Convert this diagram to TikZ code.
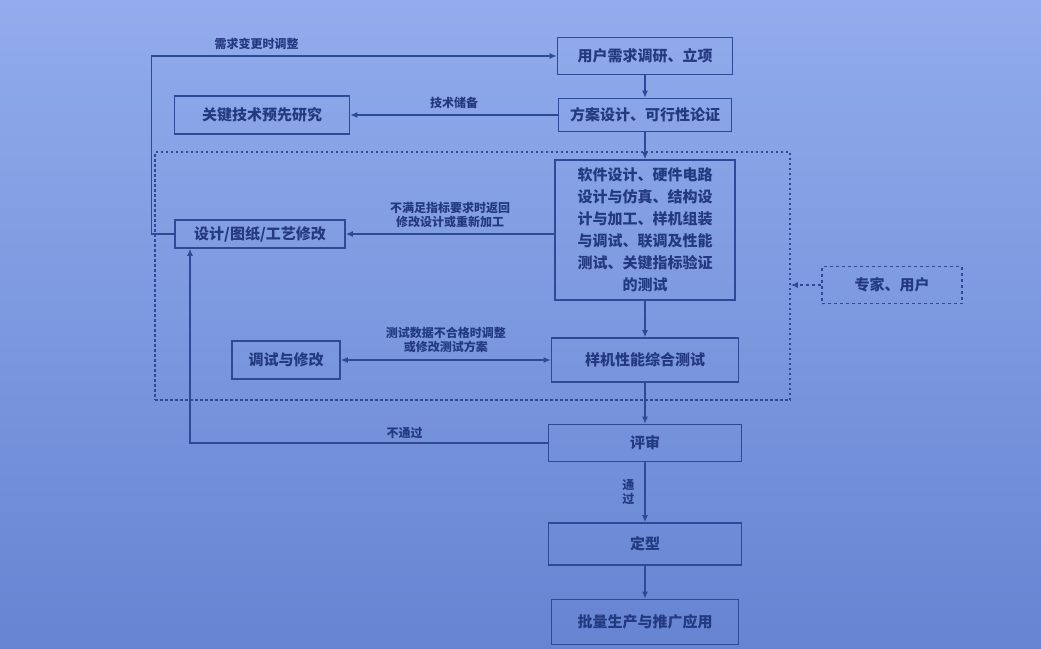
\documentclass[tikz,border=0pt]{standalone}
\usepackage{fontspec}
\setmainfont{Noto Sans CJK SC}
\usetikzlibrary{arrows.meta}
\definecolor{bgtop}{RGB}{146,172,236}
\definecolor{bgbot}{RGB}{102,132,210}
\definecolor{ink}{RGB}{46,74,150}
\definecolor{txt}{RGB}{36,58,128}

\begin{document}
\begin{tikzpicture}[x=1pt,y=-1pt,
    box/.style={draw=ink, line width=1.6pt, inner sep=2pt, text=txt,
      font=\fontsize{15}{22}\selectfont\bfseries, align=center},
    lbl/.style={text=txt, font=\fontsize{12}{14}\selectfont\bfseries, align=center, inner sep=2pt},
    arr/.style={draw=ink, line width=1.3pt, -{Latex[length=7pt,width=6pt]}}]
  % background of the photo
  \shade[top color=bgtop, bottom color=bgbot] (0,0) rectangle (1041,648);
  \useasboundingbox (0,0) rectangle (1041,648);

  % main column
  \node[box, minimum width=175, minimum height=37] (xq) at (645,56) {用户需求调研、立项};
  \node[box, minimum width=173, minimum height=33] (fa) at (645,115) {方案设计、可行性论证};
  \node[box, minimum width=180, minimum height=140] (sj) at (645,230)
    {软件设计、硬件电路\\设计与仿真、结构设\\计与加工、样机组装\\与调试、联调及性能\\测试、关键指标验证\\的测试};
  \node[box, minimum width=187, minimum height=44] (zh) at (645,360) {样机性能综合测试};
  \node[box, minimum width=193, minimum height=37] (ps) at (645,443) {评审};
  \node[box, minimum width=193, minimum height=42] (dx) at (645,544) {定型};
  \node[box, minimum width=187, minimum height=45] (sc) at (645,622) {批量生产与推广应用};

  % left column
  \node[box, minimum width=175, minimum height=38] (yj) at (262,115) {关键技术预先研究};
  \node[box, minimum width=170, minimum height=28] (xg) at (260,234) {设计/图纸/工艺修改};
  \node[box, minimum width=108, minimum height=38] (ts) at (286,360) {调试与修改};

  % dashed frame and reviewers
  \node[draw=ink, line width=1.6pt, dash pattern=on 2.5pt off 2.5pt,
    minimum width=635, minimum height=248] (yz) at (472.5,276) {};
  \node[box, dash pattern=on 3pt off 3pt, minimum width=140, minimum height=37] (pj) at (892,285) {专家、用户};

  \draw[arr] (xq) -- (fa);
  \draw[arr] (fa) -- (sj);
  \draw[arr] (sj) -- (zh);
  \draw[arr] (zh) -- (ps);
  \draw[arr] (ps) -- (dx) node[lbl, midway, left=8pt] {通\\过};
  \draw[arr] (dx) -- (sc);

  \draw[arr] (fa.west) -- (yj.east) node[lbl, midway, above=4pt] {技术储备};
  \draw[arr] (sj.west |- xg) -- (xg.east)
    node[lbl, midway, above=4pt] {不满足指标要求时返回\\修改设计或重新加工};
  \draw[arr] (xg.west) -- ++(-23,0) |- (xq.west) node[lbl, pos=0.63, above=4pt] {需求变更时调整};
  \draw[draw=ink, line width=1.3pt, {Latex[length=7pt,width=6pt]}-{Latex[length=7pt,width=6pt]}] (ts) -- (zh)
    node[lbl, midway, above=5pt] {测试数据不合格时调整\\或修改测试方案};
  \draw[arr] (ps.west) -| ([xshift=-70]xg.south) node[lbl, pos=0.2, above=2pt] {不通过};
  \draw[arr, dash pattern=on 3pt off 3pt] (pj.west) -- (pj.west -| yz.east);
\end{tikzpicture}
\end{document}
